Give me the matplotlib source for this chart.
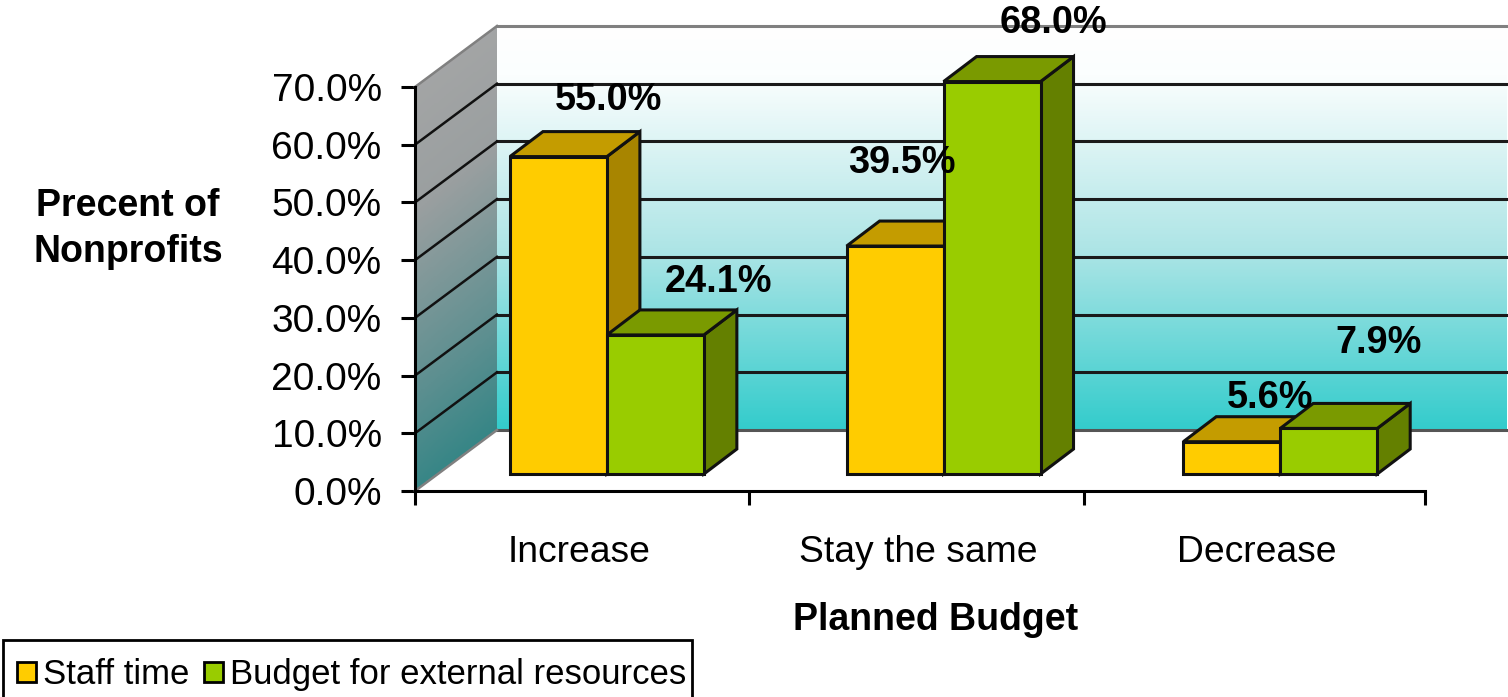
# import data
import numpy as np
import matplotlib
matplotlib.use("Agg")
import matplotlib.pyplot as plt
import matplotlib.colors as mcolors
from matplotlib.patches import Polygon, Patch, Rectangle

# data
categories = ["Increase", "Stay the same", "Decrease"]
staff_time = [55.0, 39.5, 5.6]
external_budget = [24.1, 68.0, 7.9]
y_ticks = [0, 10, 20, 30, 40, 50, 60, 70]

# hand placed label offsets in pixels (bar top centre -> label centre)
staff_offsets = [(50, 57), (7, 83), (38, 44)]
external_offsets = [(63, 53), (61, 59), (50, 85)]

# oblique depth, in axis units
wall_dx, wall_dy = 82 / 336.7, 61 / 5.77
bar_dx, bar_dy = 33 / 336.7, 25 / 5.77
bar_x0, bar_w, bar_base = 0.282, 0.288, 2.94

plt.rcParams["font.family"] = ["Liberation Sans", "DejaVu Sans"]

W, H = 1508, 697
fig = plt.figure(figsize=(W / 100, H / 100), dpi=100)
ax = fig.add_axes([415 / W, (H - 491) / H, 1010 / W, 404 / H])
ax.patch.set_alpha(0)

top = y_ticks[-1]

# back wall gradient
back_cmap = mcolors.LinearSegmentedColormap.from_list(
    "back", [(0, "#ffffff"), (0.12, "#fbfefe"), (0.55, "#aee5e6"), (1, "#33cccc")])
back = ax.imshow(np.linspace(0, 1, 256).reshape(-1, 1), cmap=back_cmap, aspect="auto", zorder=1,
                 extent=[wall_dx, 3 + wall_dx, wall_dy, top + wall_dy], origin="upper")
back_clip = Rectangle((wall_dx, wall_dy), 3, top, transform=ax.transData, fc="none", ec="none")
ax.add_patch(back_clip)
back.set_clip_path(back_clip)

# left wall gradient, runs a little diagonally
side_cmap = mcolors.LinearSegmentedColormap.from_list(
    "side", [(0, "#a8a8a8"), (0.35, "#9a9fa0"), (0.7, "#5c8f90"), (1, "#1f8080")])
xx, yy = np.meshgrid(np.linspace(0, 1, 40), np.linspace(0, 1, 256))
side_img = ax.imshow(np.clip(yy * 0.88 + xx * 0.12, 0, 1), cmap=side_cmap, aspect="auto", zorder=1,
                     extent=[0, wall_dx, 0, top + wall_dy], origin="upper", vmin=0, vmax=1)
side_clip = Polygon([(0, 0), (wall_dx, wall_dy), (wall_dx, top + wall_dy), (0, top)],
                    transform=ax.transData, fc="none", ec="none")
ax.add_patch(side_clip)
side_img.set_clip_path(side_clip)
side_img.set_clip_box(fig.bbox)  # polygon clip keeps the axes box otherwise

# gridlines on both walls
for t in y_ticks:
    if t == 0:
        col = "#555555"
    elif t == top:
        col = "#808080"
    else:
        col = "#1a1a1a"
    ax.plot([wall_dx, 3 + wall_dx], [t + wall_dy, t + wall_dy], color=col, lw=2.2, zorder=2, clip_on=False)
    ax.plot([0, wall_dx], [t, t + wall_dy], color="#111111" if 0 < t < top else "#808080",
            lw=1.8, zorder=2, clip_on=False)


def draw_bar(x, value, front, side, roof, z):
    y0, y1 = bar_base, bar_base + value
    x1 = x + bar_w
    edge = dict(edgecolor="#111111", linewidth=2.2, joinstyle="miter", clip_on=False, zorder=z)
    ax.add_patch(Polygon([(x1, y0), (x1 + bar_dx, y0 + bar_dy), (x1 + bar_dx, y1 + bar_dy), (x1, y1)],
                         facecolor=side, **edge))
    ax.add_patch(Polygon([(x, y1), (x + bar_dx, y1 + bar_dy), (x1 + bar_dx, y1 + bar_dy), (x1, y1)],
                         facecolor=roof, **edge))
    ax.add_patch(Polygon([(x, y0), (x1, y0), (x1, y1), (x, y1)], facecolor=front, **edge))


staff_cols = ("#ffcc00", "#a88500", "#c49c00")
ext_cols = ("#99cc00", "#648000", "#7a9a00")

for i in range(len(categories)):
    x = i + bar_x0
    draw_bar(x, staff_time[i], *staff_cols, 3 + i * 2)
    draw_bar(x + bar_w, external_budget[i], *ext_cols, 4 + i * 2)

# value labels
for i in range(len(categories)):
    for vals, offs, xs in ((staff_time, staff_offsets, i + bar_x0),
                           (external_budget, external_offsets, i + bar_x0 + bar_w)):
        ax.annotate(f"{vals[i]:.1f}%", xy=(xs + bar_w / 2, bar_base + vals[i]), xytext=offs[i],
                    textcoords="offset pixels", ha="center", va="center", fontsize=27.3,
                    fontweight="bold", color="black", zorder=20, annotation_clip=False)

# axes
ax.set_xlim(0, 3)
ax.set_ylim(0, top)
for s in ("top", "right"):
    ax.spines[s].set_visible(False)
for s in ("left", "bottom"):
    ax.spines[s].set_linewidth(2.2)
    ax.spines[s].set_zorder(15)

ax.set_yticks(y_ticks)
ax.set_yticklabels([f"{t:.1f}%" for t in y_ticks])
ax.tick_params(axis="y", labelsize=28, length=10, width=2.2, pad=14)
ax.set_xticks([0, 0.992, 1.987, 3])
ax.set_xticklabels([])
ax.set_xticks([0.486, 1.494, 2.5], minor=True)
ax.set_xticklabels(categories, minor=True)
ax.tick_params(axis="x", which="major", length=10, width=2.2)
ax.tick_params(axis="x", which="minor", length=0, labelsize=26.8, pad=32)

# axis titles
ax.set_xlabel("Planned Budget", fontsize=27, fontweight="bold")
ax.xaxis.set_label_coords((936 - 415) / 1010, (491 - 620) / 404)
ax.xaxis.label.set_va("center")
ax.set_ylabel("Precent of\nNonprofits", fontsize=27, fontweight="bold", rotation=0, ha="center", va="center",
              linespacing=1.35)
ax.yaxis.set_label_coords((128 - 415) / 1010, (491 - 229) / 404)

# legend box runs off the bottom of the picture
fig.add_artist(Rectangle((3 / W, -0.02), 689 / W, (H - 640) / H + 0.02, transform=fig.transFigure,
                         facecolor="white", edgecolor="black", linewidth=2))
handles = [Patch(facecolor=staff_cols[0], edgecolor="black", linewidth=2, label="Staff time"),
           Patch(facecolor=ext_cols[0], edgecolor="black", linewidth=2, label="Budget for external resources")]
fig.legend(handles=handles, ncol=2, loc="lower left", bbox_to_anchor=(3 / W, -8 / H),
           fontsize=25, frameon=False, borderaxespad=0, borderpad=0.4, handlelength=0.55, handleheight=0.5,
           handletextpad=0.2, columnspacing=0.42)

plt.savefig("out.png", dpi=100)
